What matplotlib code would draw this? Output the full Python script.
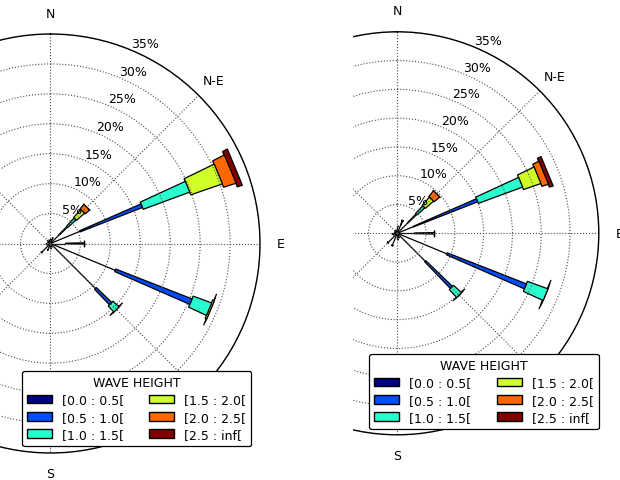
import numpy as np
import matplotlib
matplotlib.use("Agg")
import matplotlib.pyplot as plt
from matplotlib.patches import Rectangle, Patch

# 16 direction sectors, degrees clockwise from north
DIRS = [0, 22.5, 45, 67.5, 90, 112.5, 135, 157.5,
        180, 202.5, 225, 247.5, 270, 292.5, 315, 337.5]

CLASS_LABELS = ["[0.0 : 0.5[", "[0.5 : 1.0[", "[1.0 : 1.5[",
                "[1.5 : 2.0[", "[2.0 : 2.5[", "[2.5 : inf["]

RADII = [5, 10, 15, 20, 25, 30, 35]
RADII_LABELS = ["5%", "10%", "15%", "20%", "25%", "30%", "35%"]
# only N, N-E, E and S show in the picture, the rest sit off-canvas or under the legend
DIR_LABELS = ["N", "N-E", "E", "", "S", "", "", ""]

# left rose, frequency (%) per wave height class and direction
L_00_05 = [0.8, 1.0, 2.0, 5.3, 2.5, 11.7, 10.6, 0.6, 0.8, 1.2, 2.1, 0.6, 0.8, 0.5, 0.7, 0.6]
L_05_10 = [0.0, 0.0, 2.0, 11.2, 3.1, 13.7, 3.6, 0.0, 0.0, 0.0, 0.0, 0.0, 0.0, 0.0, 0.0, 0.0]
L_10_15 = [0.0, 0.0, 1.8, 8.3, 0.0, 3.3, 1.4, 0.0, 0.0, 0.0, 0.0, 0.0, 0.0, 0.0, 0.0, 0.0]
L_15_20 = [0.0, 0.0, 1.8, 5.6, 0.0, 0.3, 0.0, 0.0, 0.0, 0.0, 0.0, 0.0, 0.0, 0.0, 0.0, 0.0]
L_20_25 = [0.0, 0.0, 1.0, 2.2, 0.0, 0.0, 0.0, 0.0, 0.0, 0.0, 0.0, 0.0, 0.0, 0.0, 0.0, 0.0]
L_25_INF = [0.0, 0.0, 0.0, 0.9, 0.0, 0.0, 0.0, 0.0, 0.0, 0.0, 0.0, 0.0, 0.0, 0.0, 0.0, 0.0]

# right rose
R_00_05 = [1.2, 1.5, 2.5, 3.0, 3.0, 9.3, 6.8, 0.8, 1.0, 2.3, 2.3, 0.7, 0.9, 0.5, 0.6, 0.6]
R_05_10 = [0.0, 0.9, 2.2, 12.0, 3.4, 14.8, 6.5, 0.0, 0.0, 0.0, 0.0, 0.0, 0.0, 0.0, 0.0, 0.0]
R_10_15 = [0.0, 0.0, 1.8, 8.2, 0.0, 3.8, 1.9, 0.0, 0.0, 0.0, 0.0, 0.0, 0.0, 0.0, 0.0, 0.0]
R_15_20 = [0.0, 0.0, 1.9, 3.2, 0.0, 0.0, 0.0, 0.0, 0.0, 0.0, 0.0, 0.0, 0.0, 0.0, 0.0, 0.0]
R_20_25 = [0.0, 0.0, 1.3, 1.2, 0.0, 0.0, 0.0, 0.0, 0.0, 0.0, 0.0, 0.0, 0.0, 0.0, 0.0, 0.0]
R_25_INF = [0.0, 0.0, 0.0, 0.7, 0.0, 0.0, 0.0, 0.0, 0.0, 0.0, 0.0, 0.0, 0.0, 0.0, 0.0, 0.0]

W, H = 620, 481
colors = plt.cm.jet(np.linspace(0, 1, 6))


def rose(ax, table, legend_xy):
    ax.set_theta_zero_location("N")
    ax.set_theta_direction(-1)
    nbins = len(table)
    # box style: each class gets a wider opening
    opening = np.linspace(0.0, np.pi / 16, nbins)
    for j, d in enumerate(DIRS):
        th = np.deg2rad(d)
        offset = 0.0
        for i in range(nbins):
            val = table[i][j]
            p = Rectangle((th - opening[i] / 2, offset), opening[i], val,
                          facecolor=colors[i], edgecolor="black", linewidth=0.9,
                          zorder=1 + (nbins - i) * 0.01)
            ax.add_patch(p)
            offset += val
    ax.set_ylim(0, 35)
    ax.set_rticks(RADII)
    ax.set_yticklabels([])
    for r, lab in zip(RADII, RADII_LABELS):
        ax.text(np.deg2rad(22.5), r, lab, ha="left", va="bottom", fontsize=9)
    ax.set_thetagrids(np.arange(0, 360, 45), DIR_LABELS, fontsize=9)
    ax.tick_params(axis="x", pad=4.5)
    ax.grid(True, color="0.3", linestyle=":", linewidth=0.8)
    ax.spines["polar"].set_linewidth(1.0)
    handles = [Patch(facecolor=c, edgecolor="black") for c in colors]
    leg = ax.legend(handles, CLASS_LABELS, title="WAVE HEIGHT", ncol=2,
                    loc="lower left", bbox_to_anchor=legend_xy,
                    bbox_transform=ax.figure.transFigure, borderaxespad=0,
                    fontsize=9, title_fontsize=9, framealpha=1,
                    edgecolor="black", labelspacing=0.35, columnspacing=2.0)
    leg.get_frame().set_linewidth(0.9)


fig = plt.figure(figsize=(W / 100, H / 100), dpi=100)

# right rose (drawn first, its left part gets covered)
cx, cy, rad = 397.3, 234.3, 201.5
ax_r = fig.add_axes([(cx - rad) / W, (H - cy - rad) / H, 2 * rad / W, 2 * rad / H],
                    projection="polar", zorder=0)
rose(ax_r, [R_00_05, R_05_10, R_10_15, R_15_20, R_20_25, R_25_INF],
     (369.3 / W, 1 - 430 / H))

# white cover to cut the right image at its left edge
fig.add_artist(Rectangle((0, 0), 353 / W, 1, transform=fig.transFigure,
                         facecolor="white", edgecolor="none", zorder=0.5))

cx, cy, rad = 50.5, 244.5, 209.5
ax_l = fig.add_axes([(cx - rad) / W, (H - cy - rad) / H, 2 * rad / W, 2 * rad / H],
                    projection="polar", zorder=1)
rose(ax_l, [L_00_05, L_05_10, L_10_15, L_15_20, L_20_25, L_25_INF],
     (22 / W, 1 - 447 / H))

fig.savefig("out.png", dpi=100)
